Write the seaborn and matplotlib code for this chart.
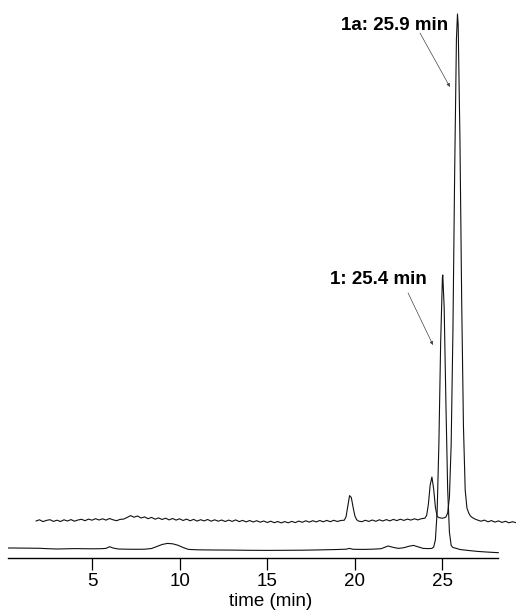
import numpy as np
import pandas as pd
import matplotlib
matplotlib.use("Agg")
import matplotlib.pyplot as plt
import seaborn as sns

# upper trace (offset), signal
top_time = [1.8, 2.0, 2.2, 2.4, 2.6, 2.8, 3.0, 3.2, 3.4, 3.6, 3.8, 4.0, 4.2, 4.4, 4.6, 4.8,
            5.0, 5.2, 5.4, 5.6, 5.8, 6.0, 6.2, 6.4, 6.6, 6.8, 7.0, 7.2, 7.4, 7.6, 7.8, 8.0,
            8.2, 8.4, 8.6, 8.8, 9.0, 9.2, 9.4, 9.6, 9.8, 10.0, 10.2, 10.4, 10.6, 10.8, 11.0,
            11.2, 11.4, 11.6, 11.8, 12.0, 12.2, 12.4, 12.6, 12.8, 13.0, 13.2, 13.4, 13.6,
            13.8, 14.0, 14.2, 14.4, 14.6, 14.8, 15.0, 15.2, 15.4, 15.6, 15.8, 16.0, 16.2,
            16.4, 16.6, 16.8, 17.0, 17.2, 17.4, 17.6, 17.8, 18.0, 18.2, 18.4, 18.6, 18.8,
            19.0, 19.2, 19.3, 19.4, 19.5, 19.6, 19.7, 19.8, 19.9, 20.0, 20.1, 20.2,
            20.4, 20.6, 20.8, 21.0, 21.2, 21.4, 21.6, 21.8, 22.0, 22.2, 22.4, 22.6, 22.8,
            23.0, 23.2, 23.4, 23.6, 23.8, 24.0, 24.1, 24.2, 24.3, 24.4, 24.5, 24.6, 24.7,
            24.8, 24.9, 25.0, 25.1, 25.2, 25.3, 25.4, 25.5, 25.6, 25.7, 25.8, 25.86, 25.9,
            26.0, 26.1, 26.2, 26.3, 26.4, 26.5, 26.6, 26.7, 26.8, 26.9, 27.0, 27.2, 27.4,
            27.6, 27.8, 28.0, 28.2, 28.4, 28.6, 28.8, 29.0, 29.2]
top_signal = [37.0, 38.2, 36.4, 37.6, 38.3, 36.6, 37.8, 36.5, 38.2, 37.0, 38.4, 36.8, 38.0,
              38.7, 37.3, 38.9, 37.8, 39.3, 38.0, 39.2, 37.9, 39.5, 38.2, 37.3, 38.6, 38.9,
              40.5, 42.4, 40.8, 42.0, 40.0, 41.1, 39.3, 40.6, 38.8, 40.1, 38.5, 39.8, 38.1,
              39.5, 37.9, 39.2, 37.5, 38.9, 37.2, 38.6, 36.9, 38.3, 37.1, 38.5, 36.8, 38.2,
              36.8, 38.0, 36.5, 37.9, 36.6, 38.1, 36.4, 37.6, 36.1, 37.5, 36.0, 37.3, 35.8,
              37.0, 35.5, 36.8, 35.3, 36.5, 35.1, 36.4, 35.2, 36.6, 35.4, 36.9, 35.7, 37.2,
              35.9, 37.3, 36.1, 37.5, 36.2, 37.6, 36.3, 37.7, 36.5, 37.5, 37.6, 37.8, 41.3,
              51.7, 62.4, 60.5, 50.9, 42.3, 38.4, 37.0,
              36.3, 37.7, 36.6, 38.0, 36.7, 38.2, 37.0, 38.4, 37.1, 38.6, 37.4, 38.8, 37.6,
              38.9, 37.9, 39.2, 38.1, 39.3, 39.8, 42.6, 53.8, 72.8, 81.0, 69.0, 50.7, 41.5,
              40.5, 40.0, 39.8, 40.2, 41.0, 45.0, 61.0, 114.0, 227.0, 387.0, 519.0, 544.0, 533.0,
              419.0, 257.0, 132.0, 68.0, 50.0, 45.0, 42.0, 40.5, 39.5, 38.6, 38.0, 36.8, 37.9,
              36.2, 37.4, 35.9, 37.1, 35.6, 36.7, 35.2, 36.3, 35.3]

# lower trace
bottom_time = [0.2, 0.5, 1.0, 1.5, 2.0, 2.5, 3.0, 3.5, 4.0, 4.5, 5.0, 5.5, 5.8, 6.0, 6.2, 6.5,
               7.0, 7.5, 8.0, 8.4, 8.7, 9.0, 9.3, 9.6, 9.9, 10.2, 10.5, 11.0, 12.0, 13.0,
               14.0, 15.0, 16.0, 17.0, 18.0, 19.0, 19.5, 19.7, 19.9, 20.5, 21.0, 21.5, 21.9,
               22.2, 22.5, 22.8, 23.1, 23.35, 23.6, 23.9, 24.2, 24.4, 24.5, 24.6, 24.7, 24.8,
               24.9, 25.0, 25.02, 25.1, 25.2, 25.3, 25.4, 25.5, 25.6, 25.8, 26.0, 26.5, 27.0,
               27.5, 28.0, 28.2]
bottom_signal = [10.0, 10.0, 9.9, 9.8, 9.7, 9.3, 9.0, 9.2, 9.4, 9.3, 9.2, 9.3, 9.6, 11.3, 10.0,
                 9.0, 8.8, 8.7, 8.8, 9.5, 11.5, 13.5, 14.6, 14.2, 12.8, 10.5, 8.6, 8.2, 8.0,
                 7.9, 7.7, 7.6, 7.7, 7.8, 8.1, 8.5, 8.8, 9.6, 8.7, 8.6, 8.8, 9.3, 12.0, 10.6,
                 9.6, 10.3, 11.8, 12.6, 11.2, 9.6, 9.4, 9.6, 10.9, 18.2, 46.5, 115.5, 215.5,
                 280.5, 283.0, 250.5, 154.5, 68.5, 25.8, 12.5, 10.5, 9.6, 8.5, 7.5, 6.6, 6.0,
                 5.5, 5.3]

xticks = [5, 10, 15, 20, 25]
peak_labels = ["1a: 25.9 min", "1: 25.4 min"]
label_pos = [(25.32, 533), (24.12, 279)]
arrow_tail = [(23.72, 525), (23.04, 265)]
arrow_head = [(25.43, 471), (24.46, 213)]

df_top = pd.DataFrame({"time": top_time, "signal": top_signal})
df_bot = pd.DataFrame({"time": bottom_time, "signal": bottom_signal})

sns.set_style("white")
plt.rcParams["font.family"] = ["Liberation Sans", "DejaVu Sans"]

fig = plt.figure(figsize=(5.16, 6.12), dpi=100)
ax = fig.add_axes([8 / 516, 54 / 612, 508 / 516, 548 / 612])

sns.lineplot(data=df_top, x="time", y="signal", ax=ax, color="#111111", lw=0.8,
             estimator=None, sort=False)
sns.lineplot(data=df_bot, x="time", y="signal", ax=ax, color="#111111", lw=0.8,
             estimator=None, sort=False)

# peak labels with small arrows
for txt, pos, tail, head in zip(peak_labels, label_pos, arrow_tail, arrow_head):
    ax.text(pos[0], pos[1], txt, ha="right", va="center", fontsize=13.5,
            fontweight="bold", color="black")
    ax.annotate("", xy=head, xytext=tail,
                arrowprops=dict(arrowstyle="-|>", color="#444444", lw=0.5,
                                mutation_scale=5, shrinkA=0, shrinkB=0))

ax.set_xlim(0.205, 29.2)
ax.set_ylim(0, 548)
sns.despine(ax=ax, left=True)
ax.spines["bottom"].set_bounds(0.2, 28.2)
ax.spines["bottom"].set_linewidth(1.0)
ax.spines["bottom"].set_color("black")
ax.set_yticks([])
ax.set_ylabel("")
ax.set_xticks(xticks)
ax.tick_params(axis="x", direction="out", length=8.5, width=0.9, pad=2.5,
               labelsize=13.5, bottom=True, color="black", labelcolor="black")
ax.set_xlabel("time (min)", fontsize=13.5, color="black")
ax.xaxis.set_label_coords(0.516, -0.063)

fig.savefig("out.png", dpi=100)
